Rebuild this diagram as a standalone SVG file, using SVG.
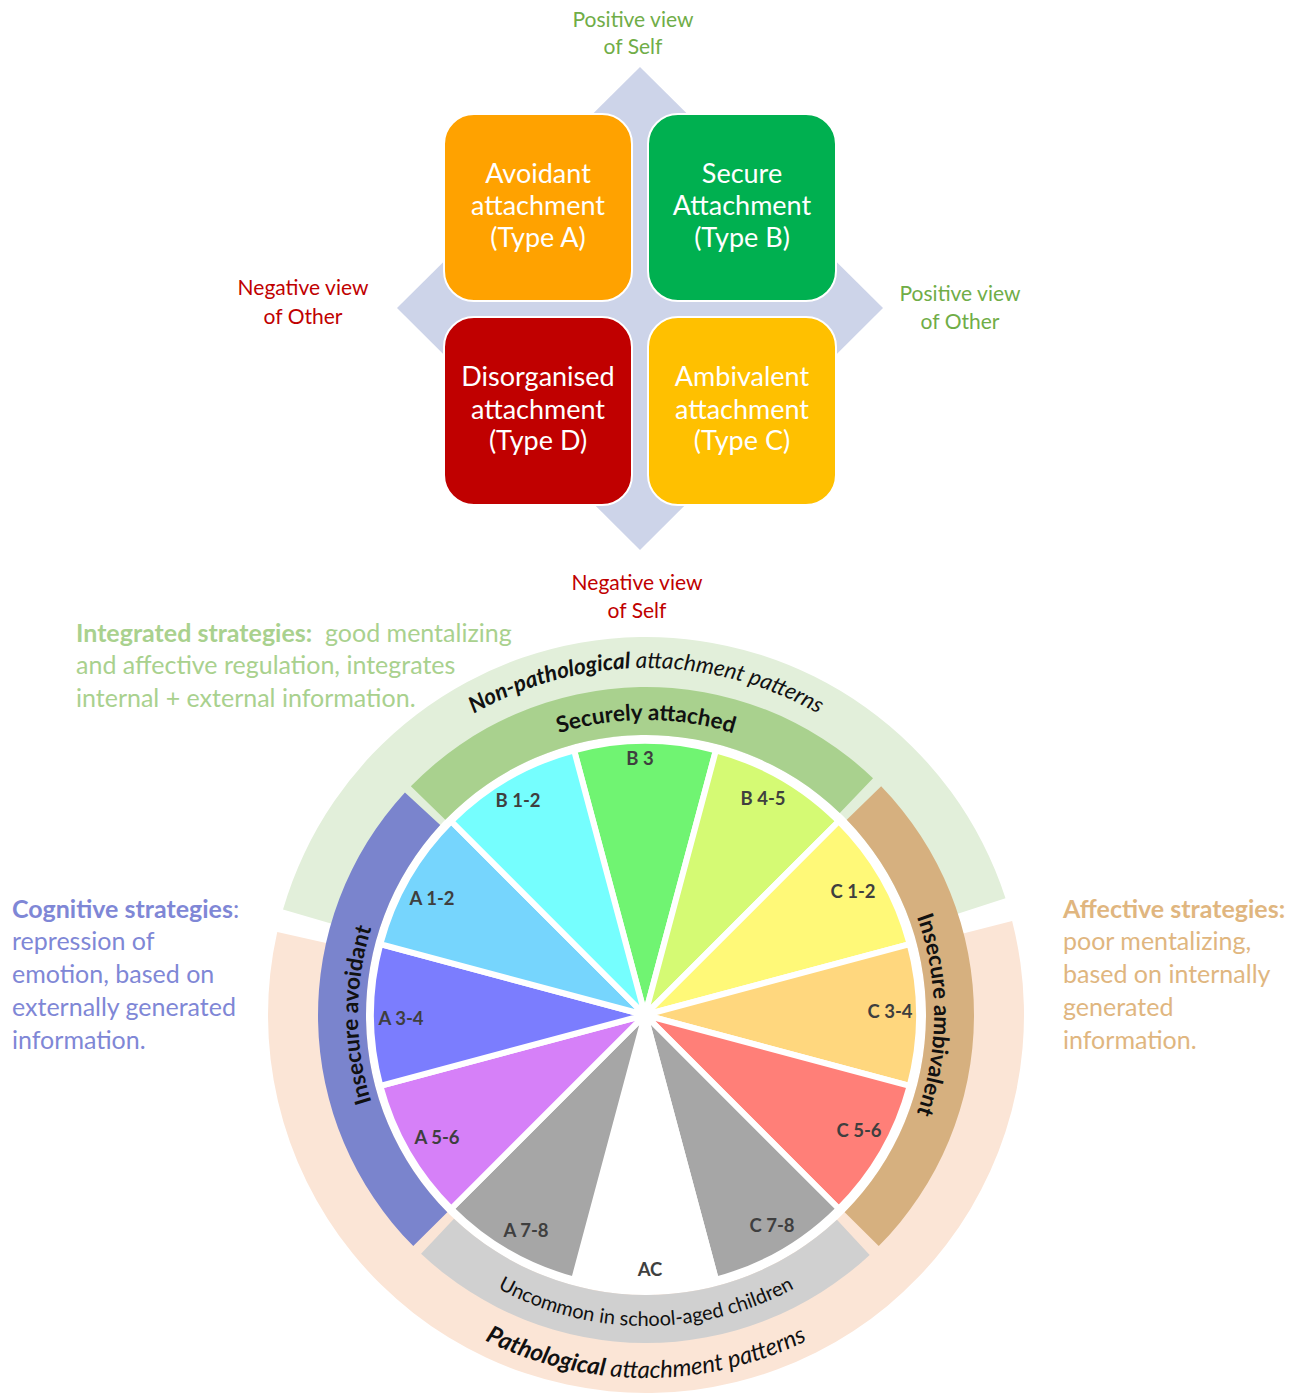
<svg xmlns="http://www.w3.org/2000/svg" width="1301" height="1394" viewBox="0 0 1301 1394">
<style>
  .box { stroke: #ffffff; stroke-width: 2; }
  .boxt { font-family: Lato, "Open Sans", "Liberation Sans", sans-serif; font-size: 27px; fill: #ffffff; text-anchor: middle; }
  .axg { font-family: Lato, "Open Sans", "Liberation Sans", sans-serif; font-size: 21px; fill: #70AD47; text-anchor: middle; }
  .axr { font-family: Lato, "Open Sans", "Liberation Sans", sans-serif; font-size: 21px; fill: #C00000; text-anchor: middle; }
  .slice { stroke: #ffffff; stroke-width: 6; stroke-linejoin: round; }
  .sl { font-family: Lato, "Open Sans", "Liberation Sans", sans-serif; font-size: 18.5px; font-weight: bold; fill: #3F3F3F; text-anchor: middle; }
  .arc { font-family: Lato, "Open Sans", "Liberation Sans", sans-serif; font-size: 22.5px; fill: #111111; }
  .arc-s { font-family: Lato, "Open Sans", "Liberation Sans", sans-serif; font-size: 20px; fill: #111111; }
  .arc-l { font-family: Lato, "Open Sans", "Liberation Sans", sans-serif; font-size: 24px; fill: #111111; }
  .side { font-family: Lato, "Open Sans", "Liberation Sans", sans-serif; font-size: 25px; }
</style>
<defs>
  <path id="pNon" d="M 299 1015 A 347 347 0 0 1 993 1015"/>
  <path id="pSec" d="M 351 1015 A 295 295 0 0 1 941 1015"/>
  <path id="pUnc" d="M 335 1015 A 311 311 0 0 0 957 1015"/>
  <path id="pPat" d="M 283 1015 A 363 363 0 0 0 1009 1015"/>
  <path id="pAvo" d="M 646 1303 A 288 288 0 0 1 646 727"/>
  <path id="pAmb" d="M 646 727 A 288 288 0 0 1 646 1303"/>
</defs>
<rect width="1301" height="1394" fill="#ffffff"/>

<!-- Top quadrant model -->
<g id="quadrant-bg">
  <polygon points="640,67 883,308 640,550 397,308" fill="#CDD4E9"/>
</g>
<g id="avoidant">
  <rect class="box" x="444" y="114" width="188" height="187" rx="30" fill="#FFA200"/>
  <text class="boxt" x="538" y="183">Avoidant</text>
  <text class="boxt" x="538" y="215">attachment</text>
  <text class="boxt" x="538" y="247">(Type A)</text>
</g>
<g id="secure">
  <rect class="box" x="648" y="114" width="188" height="187" rx="30" fill="#00B050"/>
  <text class="boxt" x="742" y="183">Secure</text>
  <text class="boxt" x="742" y="215">Attachment</text>
  <text class="boxt" x="742" y="247">(Type B)</text>
</g>
<g id="disorganised">
  <rect class="box" x="444" y="317" width="188" height="188" rx="30" fill="#C00000"/>
  <text class="boxt" x="538" y="386">Disorganised</text>
  <text class="boxt" x="538" y="419">attachment</text>
  <text class="boxt" x="538" y="450">(Type D)</text>
</g>
<g id="ambivalent">
  <rect class="box" x="648" y="317" width="188" height="188" rx="30" fill="#FFC000"/>
  <text class="boxt" x="742" y="386">Ambivalent</text>
  <text class="boxt" x="742" y="419">attachment</text>
  <text class="boxt" x="742" y="450">(Type C)</text>
</g>
<g id="axis-labels">
  <text class="axg" x="633" y="27">Positive view</text>
  <text class="axg" x="633" y="54">of Self</text>
  <text class="axr" x="303" y="295">Negative view</text>
  <text class="axr" x="303" y="324">of Other</text>
  <text class="axg" x="960" y="301">Positive view</text>
  <text class="axg" x="960" y="329">of Other</text>
  <text class="axr" x="637" y="590">Negative view</text>
  <text class="axr" x="637" y="618">of Self</text>
</g>

<!-- Side descriptions -->
<g id="integrated" class="side" fill="#A9D18E">
  <text x="76" y="642" xml:space="preserve"><tspan font-weight="bold">Integrated strategies:</tspan>  good mentalizing</text>
  <text x="76" y="674">and affective regulation, integrates</text>
  <text x="76" y="707">internal + external information.</text>
</g>
<g id="cognitive" class="side" fill="#7F87D6">
  <text x="12" y="918"><tspan font-weight="bold">Cognitive strategies</tspan>:</text>
  <text x="12" y="950">repression of</text>
  <text x="12" y="983">emotion, based on</text>
  <text x="12" y="1016">externally generated</text>
  <text x="12" y="1049">information.</text>
</g>
<g id="affective" class="side" fill="#E0B67F">
  <text x="1063" y="918" font-weight="bold">Affective strategies:</text>
  <text x="1063" y="950">poor mentalizing,</text>
  <text x="1063" y="983">based on internally</text>
  <text x="1063" y="1016">generated</text>
  <text x="1063" y="1049">information.</text>
</g>

<!-- Outer rings -->
<g id="ring-nonpathological">
  <path d="M 283.01 909.54 A 378 378 0 0 1 1005.50 898.19 L 912.30 928.48 A 280 280 0 0 0 377.12 936.88 Z" fill="#E2EFDA"/>
  <text class="arc"><textPath href="#pNon" startOffset="50%" text-anchor="middle"><tspan font-weight="bold" font-style="italic">Non-pathological</tspan><tspan font-style="italic"> attachment patterns</tspan></textPath></text>
</g>
<g id="ring-pathological">
  <path d="M 1012.12 920.99 A 378 378 0 1 1 277.25 931.90 L 372.85 953.44 A 280 280 0 1 0 917.20 945.37 Z" fill="#FBE5D6"/>
  <text class="arc-l"><textPath href="#pPat" startOffset="50%" text-anchor="middle"><tspan font-weight="bold" font-style="italic">Pathological</tspan><tspan font-style="italic"> attachment patterns</tspan></textPath></text>
</g>

<!-- Inner bands -->
<g id="band-securely">
  <path d="M 410.85 786.33 A 328 328 0 0 1 873.02 778.26 L 839.80 812.91 A 280 280 0 0 0 445.27 819.79 Z" fill="#A9D18E"/>
  <text class="arc" font-weight="bold"><textPath href="#pSec" startOffset="50%" text-anchor="middle">Securely attached</textPath></text>
</g>
<g id="band-avoidant">
  <path d="M 413.26 1246.12 A 328 328 0 0 1 404.95 792.56 L 440.22 825.12 A 280 280 0 0 0 447.32 1212.30 Z" fill="#7A84CD"/>
  <text class="arc" font-weight="bold"><textPath href="#pAvo" startOffset="50%" text-anchor="middle">Insecure avoidant</textPath></text>
</g>
<g id="band-ambivalent">
  <path d="M 881.15 786.33 A 328 328 0 0 1 878.74 1246.12 L 844.68 1212.30 A 280 280 0 0 0 846.73 819.79 Z" fill="#D6B07F"/>
  <text class="arc" font-weight="bold"><textPath href="#pAmb" startOffset="50%" text-anchor="middle">Insecure ambivalent</textPath></text>
</g>
<g id="band-uncommon">
  <path d="M 869.70 1254.88 A 328 328 0 0 1 421.05 1253.71 L 453.97 1218.78 A 280 280 0 0 0 836.96 1219.78 Z" fill="#D0D0D0"/>
  <text class="arc-s"><textPath href="#pUnc" startOffset="50%" text-anchor="middle">Uncommon in school-aged children</textPath></text>
</g>

<!-- Pie slices -->
<g id="slice-B3"><path class="slice" d="M 645 1015 L 574.08 750.34 A 274 274 0 0 1 715.92 750.34 Z" fill="#70F472"/><text class="sl" x="640" y="765">B 3</text></g>
<g id="slice-B45"><path class="slice" d="M 645 1015 L 715.92 750.34 A 274 274 0 0 1 838.75 821.25 Z" fill="#D5FA74"/><text class="sl" x="763" y="805">B 4-5</text></g>
<g id="slice-C12"><path class="slice" d="M 645 1015 L 838.75 821.25 A 274 274 0 0 1 909.66 944.08 Z" fill="#FFF978"/><text class="sl" x="853" y="898">C 1-2</text></g>
<g id="slice-C34"><path class="slice" d="M 645 1015 L 909.66 944.08 A 274 274 0 0 1 909.66 1085.92 Z" fill="#FFD77E"/><text class="sl" x="890" y="1018">C 3-4</text></g>
<g id="slice-C56"><path class="slice" d="M 645 1015 L 909.66 1085.92 A 274 274 0 0 1 838.75 1208.75 Z" fill="#FF7F78"/><text class="sl" x="859" y="1137">C 5-6</text></g>
<g id="slice-C78"><path class="slice" d="M 645 1015 L 838.75 1208.75 A 274 274 0 0 1 715.92 1279.66 Z" fill="#A6A6A6"/><text class="sl" x="772" y="1232">C 7-8</text></g>
<g id="slice-AC"><path class="slice" d="M 645 1015 L 715.92 1279.66 A 274 274 0 0 1 574.08 1279.66 Z" fill="#FFFFFF"/><text class="sl" x="650" y="1276">AC</text></g>
<g id="slice-A78"><path class="slice" d="M 645 1015 L 574.08 1279.66 A 274 274 0 0 1 451.25 1208.75 Z" fill="#A6A6A6"/><text class="sl" x="526" y="1237">A 7-8</text></g>
<g id="slice-A56"><path class="slice" d="M 645 1015 L 451.25 1208.75 A 274 274 0 0 1 380.34 1085.92 Z" fill="#D680F8"/><text class="sl" x="437" y="1144">A 5-6</text></g>
<g id="slice-A34"><path class="slice" d="M 645 1015 L 380.34 1085.92 A 274 274 0 0 1 380.34 944.08 Z" fill="#7B7DFE"/><text class="sl" x="401" y="1025">A 3-4</text></g>
<g id="slice-A12"><path class="slice" d="M 645 1015 L 380.34 944.08 A 274 274 0 0 1 451.25 821.25 Z" fill="#76D5FD"/><text class="sl" x="432" y="905">A 1-2</text></g>
<g id="slice-B12"><path class="slice" d="M 645 1015 L 451.25 821.25 A 274 274 0 0 1 574.08 750.34 Z" fill="#75FEFE"/><text class="sl" x="518" y="807">B 1-2</text></g>
<g id="connectors"></g>
<circle cx="645" cy="1015" r="7" fill="#ffffff"/>
</svg>
